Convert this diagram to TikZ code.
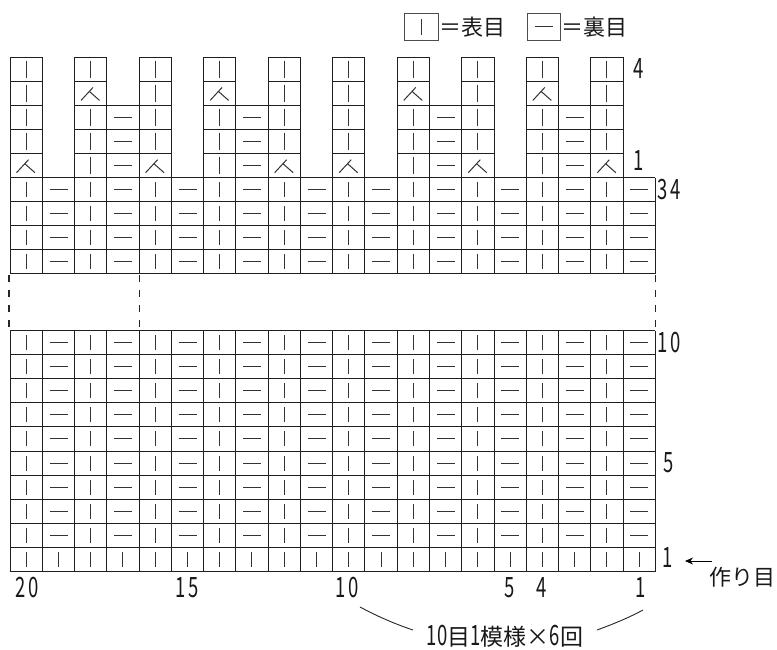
\documentclass[tikz,border=0pt]{standalone}
\usepackage{fontspec}
\setmainfont{Noto Sans CJK JP}
\usetikzlibrary{arrows.meta}
\newcommand{\nm}[1]{\scalebox{0.66}[1]{#1}}
\newcommand{\stK}[2]{\draw[sym] ({#1+16.1},{#2+4.5}) -- ({#1+16.1},{#2+19.5});}
\newcommand{\stKt}[2]{\draw[sym] ({#1+16.1},{#2+3.5}) -- ({#1+16.1},{#2+20.8});}
\newcommand{\stP}[2]{\draw[sym] ({#1+7.3},{#2+12}) -- ({#1+25.3},{#2+12});}
\newcommand{\stD}[2]{\draw[sym] ({#1+6.5},{#2+19.3}) -- ({#1+18.5},{#2+6.3}) ({#1+14.8},{#2+10.3}) -- ({#1+25},{#2+19.3});}
\begin{document}
\begin{tikzpicture}[x=1pt,y=-1pt,
  grid/.style={line width=1pt, draw=black!88},
  sym/.style={line width=1pt, draw=black!80},
  lbl/.style={font=\fontsize{28}{28}\selectfont, inner sep=0pt, text=black!90},
  jp/.style={font=\fontsize{22}{22}\selectfont, inner sep=0pt, text=black!90},
  brk/.style={line width=1.1pt, draw=black!85, dash pattern=on 7pt off 8pt}]
\useasboundingbox (0,0) rectangle (777,649);

% legend
\draw[line width=0.8pt, draw=black!70] (404,13.5) rectangle (438,40);
\draw[sym] (421,19) -- (421,35);
\node[jp, anchor=west] (lk) at (439,27) {＝表目};
\draw[line width=0.8pt, draw=black!70] (527,13.5) rectangle (560,40);
\draw[sym] (534.5,26.5) -- (552.5,26.5);
\node[jp, anchor=west] (lp) at (561,27) {＝裏目};

% top section
\foreach \j in {0,4,8,10,14,18} {
  \pgfmathsetmacro\xx{10+\j*32.27}
  \foreach \t in {0,...,4} {
    \pgfmathsetmacro\yy{57+\t*24.1}
    \draw[grid] (\xx,\yy) rectangle ++(32.27,24.1);
    \ifnum\t<4 \stKt{\xx}{\yy} \else \stD{\xx}{\yy} \fi
  }
}
\foreach \j in {2,6,12,16} {
  \pgfmathsetmacro\xx{10+\j*32.27}
  \foreach \t in {0,...,4} {
    \pgfmathsetmacro\yy{57+\t*24.1}
    \draw[grid] (\xx,\yy) rectangle ++(32.27,24.1);
    \ifnum\t=1 \stD{\xx}{\yy} \else \stKt{\xx}{\yy} \fi
  }
}
\foreach \j in {3,7,13,17} {
  \pgfmathsetmacro\xx{10+\j*32.27}
  \foreach \t in {2,3,4} {
    \pgfmathsetmacro\yy{57+\t*24.1}
    \draw[grid] (\xx,\yy) rectangle ++(32.27,24.1);
    \stP{\xx}{\yy}
  }
}

% upper ribbing block (rows 31-34)
\foreach \r in {0,...,4} \draw[grid] (10,{177.5+\r*24.1}) -- (655.4,{177.5+\r*24.1});
\foreach \j in {0,...,20} \draw[grid] ({10+\j*32.27},177.5) -- ({10+\j*32.27},273.9);
\foreach \r in {0,...,3} {
  \foreach \j in {0,...,19} {
    \pgfmathsetmacro\xx{10+\j*32.27}
    \pgfmathsetmacro\yy{177.5+\r*24.1}
    \ifodd\j \stP{\xx}{\yy} \else \stK{\xx}{\yy} \fi
  }
}

% break lines
\draw[brk] (9,274.5) -- (9,330.5);
\draw[brk] (139.1,274.5) -- (139.1,330.5);
\draw[brk] (655.4,274.5) -- (655.4,330.5);

% lower block (rows 1-10)
\foreach \r in {0,...,10} \draw[grid] (10,{330.5+\r*24.1}) -- (655.4,{330.5+\r*24.1});
\foreach \j in {0,...,20} \draw[grid] ({10+\j*32.27},330.5) -- ({10+\j*32.27},571.5);
\foreach \r in {0,...,8} {
  \foreach \j in {0,...,19} {
    \pgfmathsetmacro\xx{10+\j*32.27}
    \pgfmathsetmacro\yy{330.5+\r*24.1}
    \ifodd\j \stP{\xx}{\yy} \else \stK{\xx}{\yy} \fi
  }
}
\foreach \j in {0,...,19} {
  \pgfmathsetmacro\xx{10+\j*32.27}
  \stK{\xx}{547.4}
}

% row labels
\node[lbl] (r4) at (639,68.5) {\nm{4}};
\node[lbl] (r1t) at (639,161) {\nm{1}};
\node[lbl, anchor=west] (r34) at (657,190) {\nm{3\,4}};
\node[lbl, anchor=west] (r10) at (657,343) {\nm{1\,0}};
\node[lbl] (r5) at (669,463) {\nm{5}};
\node[lbl] (r1) at (668,558) {\nm{1}};
\node[jp] (cast) at (742,577) {作り目};
\coordinate (aS) at (712,561);
\coordinate (aE) at (685,561);
\draw[line width=1pt, -{Stealth[length=8pt,width=7pt]}] (aS) -- (aE);

% column labels
\node[lbl] (c20) at (27,588) {\nm{2\,0}};
\node[lbl] (c15) at (187.4,588) {\nm{1\,5}};
\node[lbl] (c10) at (347,588) {\nm{1\,0}};
\node[lbl] (c5) at (510,588) {\nm{5}};
\node[lbl] (c4) at (541.5,588) {\nm{4}};
\node[lbl] (c1) at (641,588) {\nm{1}};

% repeat note
\node[jp, font=\fontsize{23}{23}\selectfont] (rep) at (505,636) {\scalebox{0.66}[1]{\fontsize{28}{28}\selectfont 10}目\scalebox{0.66}[1]{\fontsize{28}{28}\selectfont 1}模様×\scalebox{0.66}[1]{\fontsize{28}{28}\selectfont 6}回};
\coordinate (bL0) at (360,607);
\coordinate (bL1) at (413,630);
\coordinate (bR0) at (597,630);
\coordinate (bR1) at (643,610);
\draw[line width=0.9pt, draw=black!85] (bL0) .. controls (377.7,616.5) and (395.3,624.1) .. (bL1);
\draw[line width=0.9pt, draw=black!85] (bR0) .. controls (615.4,623.3) and (630.7,616.7) .. (bR1);
\end{tikzpicture}
\end{document}
